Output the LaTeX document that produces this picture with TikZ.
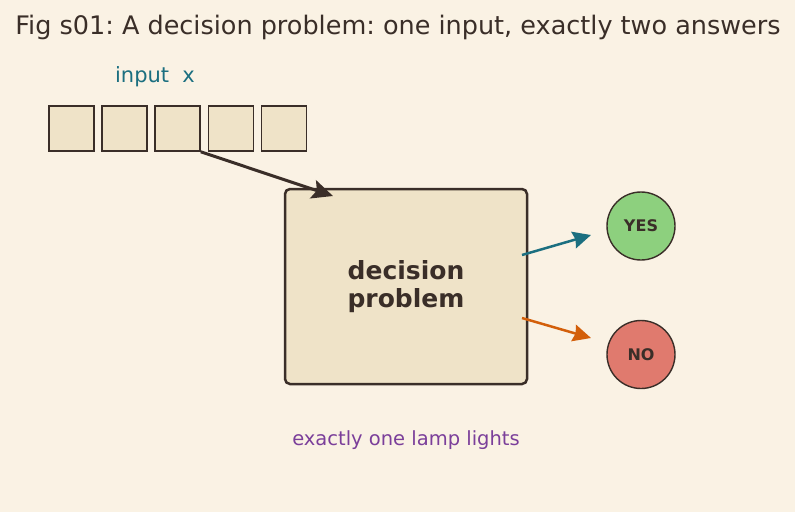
\documentclass[tikz,border=0pt]{standalone}
\usepackage{fontspec}
\setmainfont{DejaVu Sans}
\usetikzlibrary{arrows.meta}
\definecolor{paper}{HTML}{FAF2E4}
\definecolor{ink}{HTML}{3A2E28}
\definecolor{cellfill}{HTML}{EFE3C8}
\definecolor{tealc}{HTML}{1B6F80}
\definecolor{orangec}{HTML}{D35F0A}
\definecolor{purplec}{HTML}{7B3F9A}
\definecolor{yesfill}{HTML}{8DD07E}
\definecolor{nofill}{HTML}{E07A6E}
\frenchspacing

\begin{document}
\begin{tikzpicture}[x=1pt,y=-1pt]
    \tikzstyle{cell}=[rectangle,draw=ink,fill=cellfill,line width=1.6pt,minimum size=45pt,inner sep=0pt]
    \tikzstyle{lamp}=[circle,draw=ink,fill=white,line width=1.4pt,minimum size=68pt,inner sep=0pt,font=\fontsize{16}{18}\selectfont\bfseries,text=ink]
    \tikzstyle{flow}=[line width=2.5pt,-{Stealth[length=18pt,width=17pt,inset=2pt]}]
    \useasboundingbox[fill=paper] (0,0) rectangle (795,512);

    \node[text=ink,font=\fontsize{25.5}{28}\selectfont] (title) at (398,27) {Fig s01: A decision problem: one input, exactly two answers};
    \node[text=tealc,font=\fontsize{21}{24}\selectfont] (label) at (155,77) {input\ \ x};

    \foreach \num/\x in {1/71.5, 2/124.5, 3/177.5, 4/231, 5/284}
        \node[cell] (C-\num) at (\x,128.5) {};

    \node[rectangle,rounded corners=5pt,draw=ink,fill=cellfill,line width=2.5pt,minimum width=242pt,minimum height=195pt,
          align=center,text=ink,font=\fontsize{25}{28.5}\selectfont\bfseries] (dec) at (406,286.5) {decision\\problem};

    \node[lamp,fill=yesfill] (yes) at (641,226) {YES};
    \node[lamp,fill=nofill] (no) at (641,354.5) {NO};

    \node[text=purplec,font=\fontsize{19.5}{22}\selectfont] (note) at (406,440) {exactly one lamp lights};

    \coordinate (in-end) at (333,196);
    \coordinate (yes-from) at (522,255);
    \coordinate (yes-to) at (591,235);
    \coordinate (no-from) at (522,318);
    \coordinate (no-to) at (591,338);

    \draw[flow,draw=ink,line width=3pt,-{Stealth[length=21pt,width=19pt,inset=4pt]}] (C-3.south east) -- (in-end);
    \draw[flow,draw=tealc] (yes-from) -- (yes-to);
    \draw[flow,draw=orangec] (no-from) -- (no-to);
\end{tikzpicture}
\end{document}
